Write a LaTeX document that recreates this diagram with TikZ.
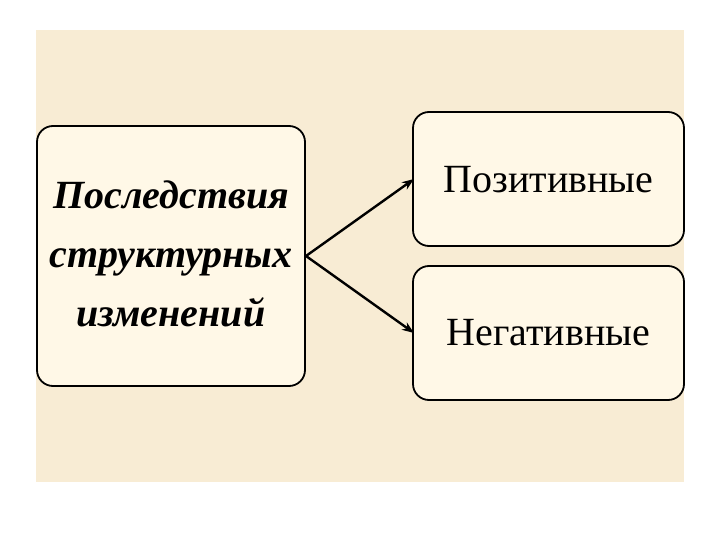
\documentclass[tikz,border=0pt]{standalone}
\usepackage{fontspec}
\setmainfont{Liberation Serif}
\usetikzlibrary{arrows.meta}
\definecolor{bgpaper}{HTML}{F8ECD4}
\definecolor{boxfill}{HTML}{FFF8E7}
\tikzset{
  roundbox/.style={draw=black, line width=1.8pt, fill=boxfill, rounded corners=16pt},
  conn/.style={line width=2.4pt, -{Stealth[length=12pt,width=9pt]}},
  lbl/.style={font=\fontsize{40}{40}\selectfont, align=center, inner sep=0pt}
}
\begin{document}
\begin{tikzpicture}[x=1pt,y=-1pt]
\useasboundingbox (0,0) rectangle (720,540);
\fill[white] (0,0) rectangle (720,540);
\fill[bgpaper] (36,30) rectangle (684,482);
\draw[roundbox] (37,126) rectangle (305,386);
\draw[roundbox] (413,112) rectangle (684,246);
\draw[roundbox] (413,266) rectangle (684,400);
\node[lbl, font=\fontsize{40}{59}\selectfont\bfseries\itshape] (left) at (171,254) {Последствия\\структурных\\изменений};
\node[lbl] (pos) at (548.5,180) {Позитивные};
\node[lbl] (neg) at (548.5,333) {Негативные};
\coordinate (src) at (306,256);
\coordinate (t1) at (414,179);
\coordinate (t2) at (414,333);
\draw[conn] (src) -- (t1);
\draw[conn] (src) -- (t2);
\end{tikzpicture}
\end{document}
